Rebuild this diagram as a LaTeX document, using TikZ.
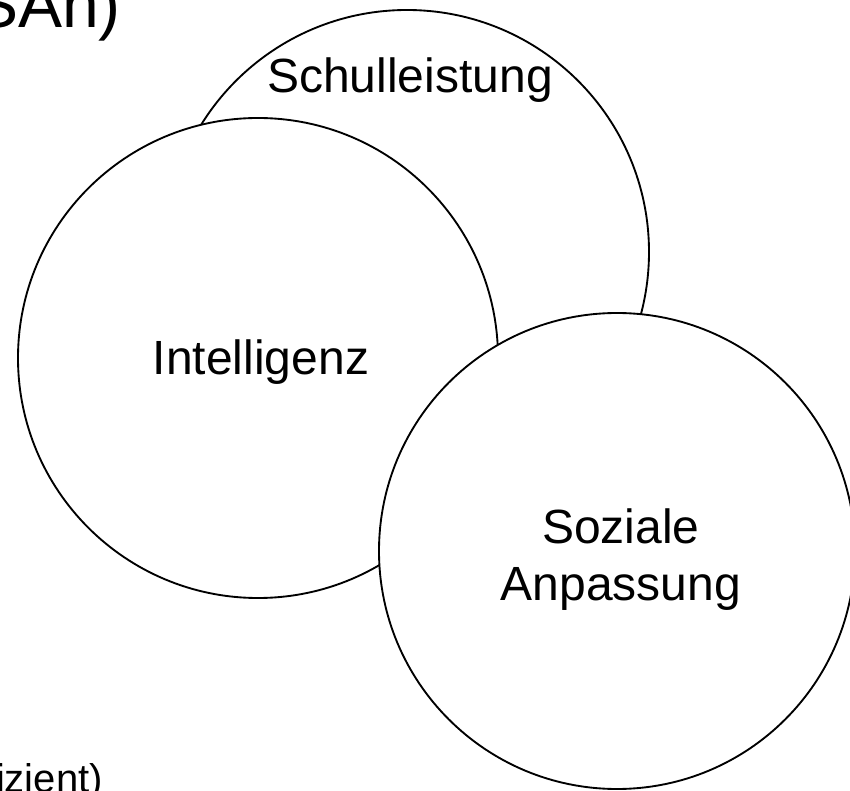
\documentclass[tikz,border=0pt]{standalone}
\usepackage{fontspec}
\setmainfont{Liberation Sans}
\usetikzlibrary{positioning}

\begin{document}
\begin{tikzpicture}[
    x=0.75pt, y=-0.75pt,
    every node/.style={font=\fontsize{36}{42.75}\selectfont},
    setcircle/.style={
        circle,
        draw=black,
        line width=1.4pt,
        fill=white,
        inner sep=0pt
    },
    settext/.style={
        inner sep=0pt,
        anchor=base,
        align=center
    },
    cuttext/.style={
        inner sep=0pt,
        anchor=base east
    }
]

% Frame
\useasboundingbox (0,0) rectangle (850,791);
\clip (0,0) rectangle (850,791);

% Cropped titles
\node[cuttext, font=\fontsize{49.5}{59}\selectfont] (title) at (121,28) {SAn)};
\node[cuttext, font=\fontsize{30}{36}\selectfont] (note) at (103,792) {izient)};

% Circles
\node[setcircle, minimum size=363pt] (schul) at (407,252) {};
\node[setcircle, minimum size=360pt] (intel) at (258,358) {};
\node[setcircle, minimum size=357pt] (sozial) at (617,551) {};

% Texts
\node[settext] (schultext) at (410,93) {Schulleistung};
\node[settext] (inteltext) at (261,375) {Intelligenz};
\node[settext] (sozialtext) at (621,600) {Soziale\\Anpassung};

\end{tikzpicture}
\end{document}
